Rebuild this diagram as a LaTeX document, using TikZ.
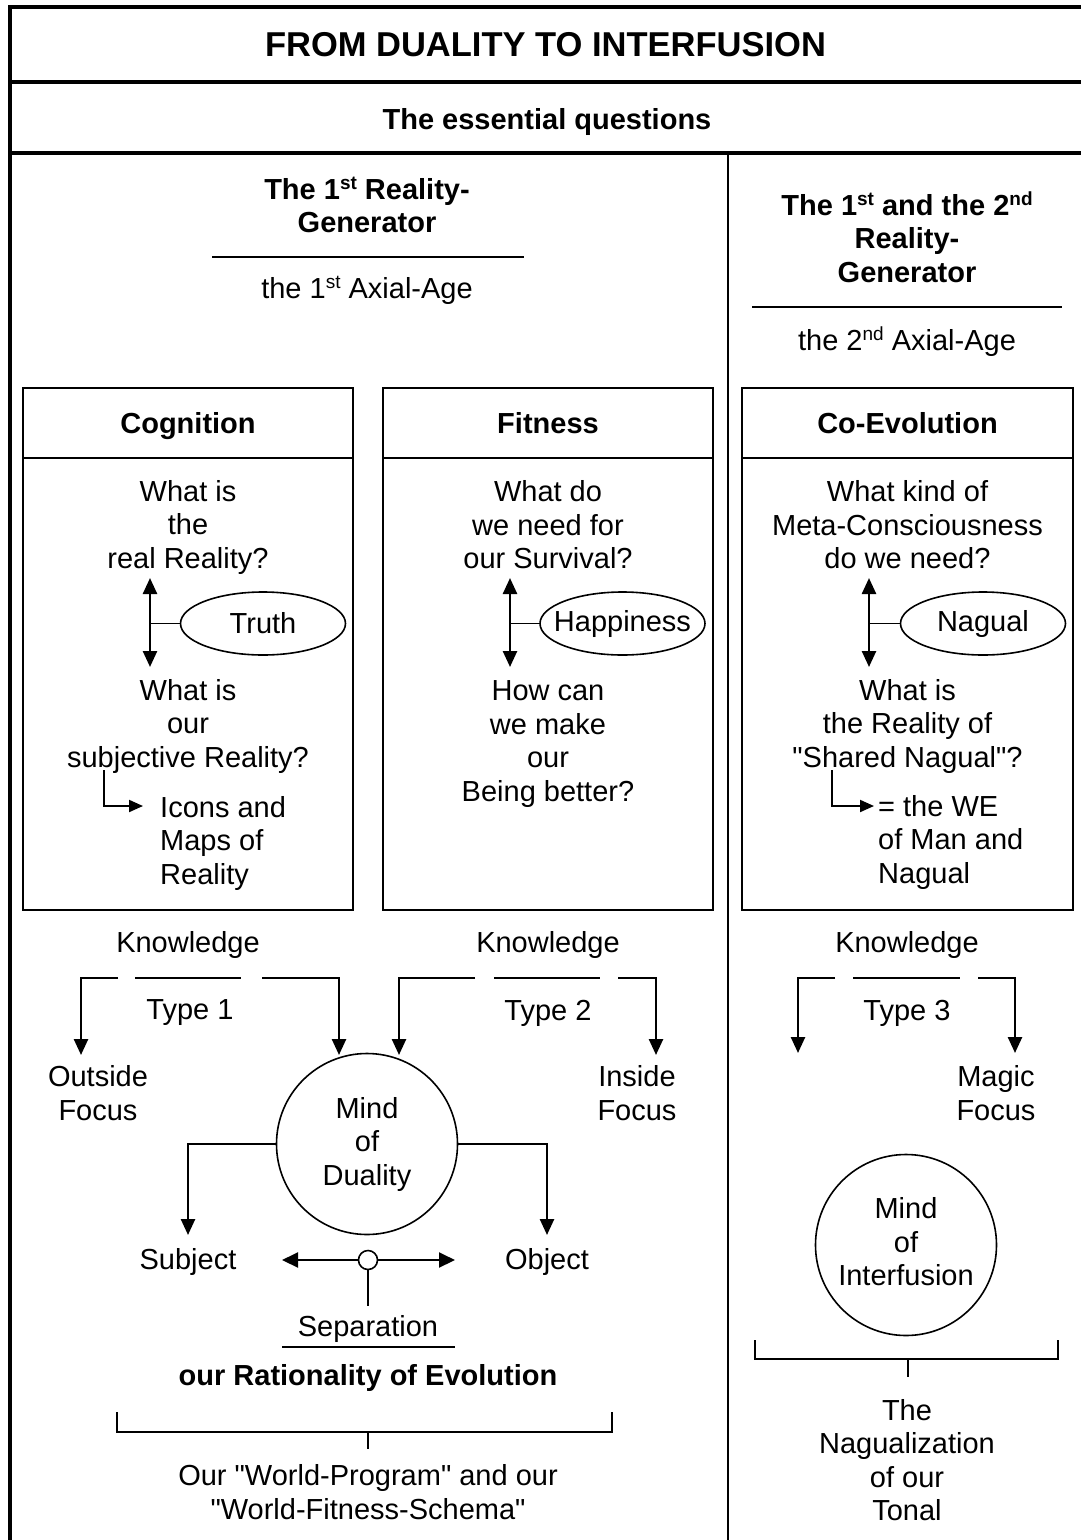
\documentclass[tikz,border=0pt]{standalone}
\usepackage{fontspec}
\setmainfont{Liberation Sans}
\newfontfamily\plainq{Liberation Sans}
\usetikzlibrary{arrows.meta,shapes.geometric}
\newcommand\sups[1]{\raisebox{10pt}{\fontsize{19}{19}\selectfont #1}}
\newcommand\dq{{\plainq\symbol{34}}}
\begin{document}
\begin{tikzpicture}[x=1pt,y=-1pt,
 txt/.style={font=\fontsize{29}{33.5}\selectfont, align=center, inner sep=0pt},
 btxt/.style={font=\bfseries\fontsize{29}{33.5}\selectfont, align=center, inner sep=0pt},
 ltxt/.style={font=\fontsize{29}{33.5}\selectfont, align=left, inner sep=0pt, anchor=west},
 frame/.style={line width=4pt},
 hair/.style={line width=1.6pt},
 arr/.style={line width=2.5pt, -{Triangle[length=16pt,width=14pt]}},
 darr/.style={line width=2.5pt, {Triangle[length=16pt,width=14pt]}-{Triangle[length=16pt,width=14pt]}},
 elb/.style={line width=2pt, -{Triangle[length=14pt,width=12pt]}},
 qbox/.style={draw, line width=1.6pt, minimum width=330pt, minimum height=522pt, inner sep=0pt},
 oval/.style={ellipse, draw, line width=1.6pt, minimum width=165pt, minimum height=63pt, inner sep=0pt, font=\fontsize{29}{33.5}\selectfont},
 mindc/.style={circle, draw, line width=1.6pt, minimum size=181pt, inner sep=0pt, font=\fontsize{29}{33.5}\selectfont, align=center},
 dot/.style={circle, draw, line width=1.6pt, minimum size=19pt, inner sep=0pt, fill=white}
]
\useasboundingbox (0,0) rectangle (1080,1540);
\fill[white] (0,0) rectangle (1080,1540);

% frame
\draw[frame] (9.5,1545) -- (9.5,7) -- (1085,7);
\draw[frame] (9.5,82) -- (1085,82);
\draw[frame] (9.5,153) -- (1085,153);
\draw[line width=2pt] (727.5,153) -- (727.5,1545);

\node[font=\bfseries\fontsize{34.5}{40}\selectfont, inner sep=0pt] (title) at (545.5,45) {FROM DUALITY TO INTERFUSION};
\node[btxt] (subtitle) at (547,122) {The essential questions};

% column headers
\node[btxt] (hdrA) at (367,205) {The 1\sups{st} Reality-\\Generator};
\draw[hair] (212,257) -- (524,257);
\node[txt] (ageA) at (367,290) {the 1\sups{st} Axial-Age};

\node[btxt] (hdrB) at (907,237) {The 1\sups{st} and the 2\sups{nd}\\Reality-\\Generator};
\draw[hair] (752,307) -- (1062,307);
\node[txt] (ageB) at (907,342) {the 2\sups{nd} Axial-Age};

% boxes
\node[qbox] (cogbox) at (188,649) {};
\node[qbox] (fitbox) at (548,649) {};
\node[qbox, minimum width=331pt] (coebox) at (907.5,649) {};
\draw[hair] (23,458) -- (353,458);
\draw[hair] (383,458) -- (713,458);
\draw[hair] (742,458) -- (1073,458);
\node[btxt] (cog) at (188,426) {Cognition};
\node[btxt] (fit) at (548,423) {Fitness};
\node[btxt] (coe) at (907.5,423) {Co-Evolution};

% Cognition content
\node[txt] (cq1) at (188,527) {What is\\the\\real Reality?};
\coordinate (ca1) at (150,578);
\coordinate (ca2) at (150,667);
\coordinate (cam) at (150,623.5);
\draw[darr] (ca1) -- (ca2);
\node[oval] (truth) at (263,623.5) {\makebox[0pt]{Truth}};
\draw[hair] (cam) -- (truth.west);
\node[txt] (cq2) at (188,726) {What is\\our\\subjective Reality?};
\coordinate (ce1) at (104,770);
\coordinate (ce2) at (143,806);
\draw[elb] (ce1) |- (ce2);
\node[ltxt] (icons) at (160,843) {Icons and\\Maps of\\Reality};

% Fitness content
\node[txt] (fq1) at (548,525) {What do\\we need for\\our Survival?};
\coordinate (fa1) at (510,578);
\coordinate (fa2) at (510,667);
\coordinate (fam) at (510,623.5);
\draw[darr] (fa1) -- (fa2);
\node[oval] (happy) at (622.5,623.5) {\makebox[0pt]{Happiness}};
\draw[hair] (fam) -- (happy.west);
\node[txt] (fq2) at (548,744) {How can\\we make\\our\\Being better?};

% Co-Evolution content
\node[txt] (eq1) at (907.5,525) {What kind of\\Meta-Consciousness\\do we need?};
\coordinate (ea1) at (869,578);
\coordinate (ea2) at (869,667);
\coordinate (eam) at (869,623.5);
\draw[darr] (ea1) -- (ea2);
\node[oval] (nagual) at (983,623.5) {\makebox[0pt]{Nagual}};
\draw[hair] (eam) -- (nagual.west);
\node[txt] (eq2) at (907.5,726) {What is\\the Reality of\\\dq Shared Nagual\dq ?};
\coordinate (ee1) at (832,770);
\coordinate (ee2) at (874,806);
\draw[elb] (ee1) |- (ee2);
\node[ltxt] (we) at (878,842) {= the WE\\of Man and\\Nagual};

% Knowledge type 1
\node[txt] (k1) at (188,945) {Knowledge};
\node[txt] (t1) at (190,1013) {Type 1};
\coordinate (k1a) at (118,978);
\coordinate (k1b) at (81,978);
\coordinate (k1c) at (81,1055);
\draw[arr] (k1a) -- (k1b) -- (k1c);
\coordinate (k1d) at (135,978);
\coordinate (k1e) at (241,978);
\draw[hair] (k1d) -- (k1e);
\coordinate (k1f) at (262,978);
\coordinate (k1g) at (339,978);
\coordinate (k1h) at (339,1055);
\draw[arr] (k1f) -- (k1g) -- (k1h);

% Knowledge type 2
\node[txt] (k2) at (548,945) {Knowledge};
\node[txt] (t2) at (548,1013) {Type 2};
\coordinate (k2a) at (475,978);
\coordinate (k2b) at (399,978);
\coordinate (k2c) at (399,1055);
\draw[arr] (k2a) -- (k2b) -- (k2c);
\coordinate (k2d) at (494,978);
\coordinate (k2e) at (600,978);
\draw[hair] (k2d) -- (k2e);
\coordinate (k2f) at (618,978);
\coordinate (k2g) at (656,978);
\coordinate (k2h) at (656,1055);
\draw[arr] (k2f) -- (k2g) -- (k2h);

% Knowledge type 3
\node[txt] (k3) at (907,945) {Knowledge};
\node[txt] (t3) at (907,1013) {Type 3};
\coordinate (k3a) at (835,978);
\coordinate (k3b) at (798,978);
\coordinate (k3c) at (798,1053);
\draw[arr] (k3a) -- (k3b) -- (k3c);
\coordinate (k3d) at (853,978);
\coordinate (k3e) at (960,978);
\draw[hair] (k3d) -- (k3e);
\coordinate (k3f) at (978,978);
\coordinate (k3g) at (1015,978);
\coordinate (k3h) at (1015,1053);
\draw[arr] (k3f) -- (k3g) -- (k3h);

\node[txt] (outside) at (98,1093) {Outside\\Focus};
\node[txt] (inside) at (637,1093) {Inside\\Focus};
\node[txt] (magic) at (996,1093) {Magic\\Focus};

% Mind of Duality
\node[mindc] (mind) at (367,1144) {Mind\\of\\Duality};
\node[txt] (subject) at (188,1262) {Subject};
\node[txt] (object) at (547,1262) {Object};
\coordinate (sj1) at (188,1144);
\coordinate (sj2) at (188,1235);
\coordinate (ob1) at (547,1144);
\coordinate (ob2) at (547,1235);
\draw[arr] (mind.west) -- (sj1) -- (sj2);
\draw[arr] (mind.east) -- (ob1) -- (ob2);

% separation
\node[dot] (sep) at (368,1260) {};
\coordinate (sl) at (282,1260);
\coordinate (sr) at (455,1260);
\draw[line width=2pt, -{Triangle[length=16pt,width=15pt]}] (sep.west) -- (sl);
\draw[line width=2pt, -{Triangle[length=16pt,width=15pt]}] (sep.east) -- (sr);
\coordinate (sd) at (368,1306);
\draw[line width=2pt] (sep.south) -- (sd);
\node[txt] (separation) at (368,1329) {Separation};
\draw[line width=2pt] (282,1347) -- (455,1347);
\node[btxt] (ratio) at (368,1378) {our Rationality of Evolution};

% bracket left
\draw[hair] (117,1412) -- (117,1432) -- (612,1432) -- (612,1412);
\coordinate (bl1) at (368,1432);
\coordinate (bl2) at (368,1449);
\draw[hair] (bl1) -- (bl2);
\node[txt] (world) at (368,1492) {Our \dq World-Program\dq{} and our\\\dq World-Fitness-Schema\dq};

% Mind of Interfusion
\node[mindc] (mindi) at (906,1245) {};
\node[txt] (minditxt) at (906,1242) {Mind\\of\\Interfusion};
\draw[hair] (755,1340) -- (755,1359) -- (1058,1359) -- (1058,1340);
\coordinate (br1) at (908,1359);
\coordinate (br2) at (908,1377);
\draw[hair] (br1) -- (br2);
\node[txt] (tonal) at (907,1460) {The\\Nagualization\\of our\\Tonal};
\end{tikzpicture}
\end{document}
